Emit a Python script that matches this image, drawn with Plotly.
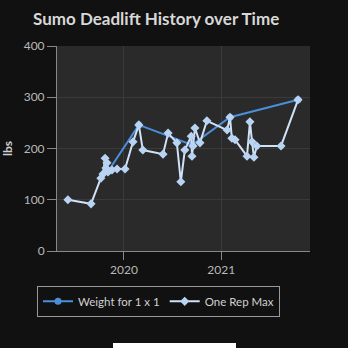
import plotly.graph_objects as go

# Weight for 1 x 1
w_dates = ["2019-11-02", "2020-02-26", "2020-09-13", "2021-02-03", "2021-10-17"]
w_vals = [155, 246, 207, 261, 295]

# One Rep Max
orm_dates = ["2019-06-04", "2019-08-30", "2019-10-06", "2019-10-14", "2019-10-22", "2019-10-25",
             "2019-10-29", "2019-11-02", "2019-11-17", "2019-12-06", "2020-01-05", "2020-02-04",
             "2020-02-26", "2020-03-12", "2020-05-27", "2020-06-15", "2020-07-18", "2020-08-02",
             "2020-08-17", "2020-09-10", "2020-09-13", "2020-09-17", "2020-09-24", "2020-10-13",
             "2020-11-08", "2021-01-23", "2021-02-03", "2021-02-10", "2021-02-22", "2021-04-08",
             "2021-04-19", "2021-04-27", "2021-05-04", "2021-05-15", "2021-08-14", "2021-10-17"]
orm_vals = [100, 92, 142, 150, 181, 162, 172, 154, 158, 160, 160, 213,
            246, 197, 189, 230, 211, 135, 197, 224, 185, 205, 240, 211,
            254, 236, 261, 220, 217, 185, 252, 213, 183, 205, 205, 295]

fig = go.Figure()
fig.add_trace(go.Scatter(x=w_dates, y=w_vals, name="Weight for 1 x 1", mode="lines+markers",
                         line=dict(color="#4a8fd8", width=2),
                         marker=dict(symbol="circle", size=7, color="#4a8fd8")))
fig.add_trace(go.Scatter(x=orm_dates, y=orm_vals, name="One Rep Max", mode="lines+markers",
                         line=dict(color="#cfe2f7", width=2),
                         marker=dict(symbol="diamond", size=7, color="#b8d4f2")))

fig.update_layout(
    width=348, height=348,
    margin=dict(l=57, r=38, t=46, b=97),
    paper_bgcolor="#111111", plot_bgcolor="#2a2a2a",
    font=dict(family="Lato, sans-serif", color="#c8c8c8", size=12),
    title=dict(text="Sumo Deadlift History over Time", x=0.095, xanchor="left",
               y=0.945, yanchor="middle",
               font=dict(size=17, color="#d8d8d8", weight="bold")),
    xaxis=dict(range=["2019-04-24", "2021-12-01"], tickvals=["2020-01-01", "2021-01-01"],
               ticktext=["2020", "2021"], showgrid=True, gridcolor="#3a3a3a",
               showline=True, linecolor="#888888", linewidth=1, ticks="outside",
               ticklen=8, tickcolor="#888888", zeroline=False, automargin=False,
               tickfont=dict(color="#b8b8b8", size=12)),
    yaxis=dict(range=[0, 400], tickvals=[0, 100, 200, 300, 400], showgrid=True,
               gridcolor="#3a3a3a", showline=True, linecolor="#888888", linewidth=1,
               ticks="outside", ticklen=9, tickcolor="#888888", zeroline=False,
               automargin=False,
               title=dict(text="lbs", font=dict(size=12, color="#d0d0d0", weight="bold"),
                          standoff=14),
               tickfont=dict(color="#b8b8b8", size=12)),
    legend=dict(orientation="h", x=-0.079, xanchor="left", y=-0.17, yanchor="top",
                bgcolor="rgba(0,0,0,0)", bordercolor="#999999", borderwidth=1,
                font=dict(size=11.5, color="#d0d0d0"), itemwidth=30),
    showlegend=True,
)
fig.add_shape(type="rect", xref="paper", yref="paper", x0=(113-57)/253, x1=(236-57)/253,
              y0=(251-348)/205, y1=(251-343)/205, fillcolor="#ffffff", line=dict(width=0))
fig.write_html("out.html")
